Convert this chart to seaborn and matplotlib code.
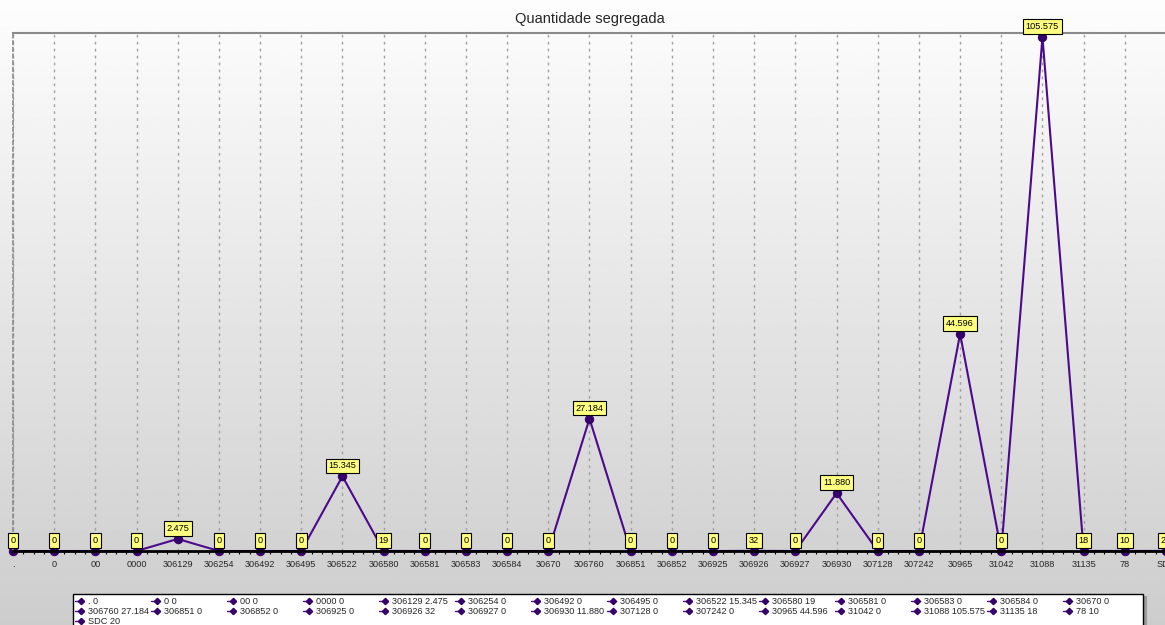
import numpy as np
import pandas as pd
import matplotlib
matplotlib.use("Agg")
import matplotlib.pyplot as plt
import seaborn as sns
from matplotlib.lines import Line2D
from matplotlib.patches import Rectangle
from matplotlib.ticker import MultipleLocator

# data (values in units, pt-BR thousands separator in labels)
codes = [".", "0", "00", "0000", "306129", "306254", "306492", "306495",
         "306522", "306580", "306581", "306583", "306584", "30670", "306760",
         "306851", "306852", "306925", "306926", "306927", "306930", "307128",
         "307242", "30965", "31042", "31088", "31135", "78", "SDC"]
quantities = [0, 0, 0, 0, 2475, 0, 0, 0,
              15345, 19, 0, 0, 0, 0, 27184,
              0, 0, 0, 32, 0, 11880, 0,
              0, 44596, 0, 105575, 18, 10, 20]
title = "Quantidade segregada"

LINE_C = "#4b0a8c"
MARK_C = "#35006a"
W, H = 1165, 625


def fmt_br(v):
    return f"{v:,.0f}".replace(",", ".")


sns.set_theme(style="white")
plt.rcParams["font.family"] = ["Liberation Sans", "DejaVu Sans"]

df = pd.DataFrame({"idx": np.arange(len(codes)), "code": codes, "qty": quantities})

fig = plt.figure(figsize=(W / 100, H / 100), dpi=100)

# vertical gradient background
bg = fig.add_axes([0, 0, 1, 1], zorder=-10)
grad = np.linspace(253, 205, 256)[:, None] / 255.0
bg.imshow(np.repeat(grad, 2, axis=1), cmap="gray", vmin=0, vmax=1,
          aspect="auto", extent=[0, 1, 0, 1])
bg.set_axis_off()

# plot area: left edge at 13 px, last category sits at ~1166 px (clipped)
left, right, top, base = 13, 1166, 33, 551
ax = fig.add_axes([left / W, (H - base) / H, (right - left) / W, (base - top) / H])
ax.set_facecolor("none")

sns.lineplot(data=df, x="idx", y="qty", ax=ax, color=LINE_C, lw=1.5,
             marker="o", markersize=6, markerfacecolor=MARK_C,
             markeredgecolor=MARK_C, clip_on=False, zorder=2)

ymax = max(quantities) * (base - top) / (base - 37)
ax.set_xlim(0, len(codes) - 1)
ax.set_ylim(0, ymax)

for i, v in zip(df["idx"], df["qty"]):
    ax.annotate(fmt_br(v), (i, v), xytext=(0, 7.5), textcoords="offset points",
                ha="center", va="center", fontsize=6.6, color="black",
                annotation_clip=False, zorder=5,
                bbox=dict(boxstyle="square,pad=0.3", fc="#ffff80", ec="black", lw=0.8))

ax.set_xticks(df["idx"])
ax.set_xticklabels(codes, fontsize=6.6)
ax.xaxis.set_minor_locator(MultipleLocator(0.25))
ax.tick_params(axis="x", which="both", direction="out", length=2.5, width=0.8,
               color="black", pad=4, bottom=True)
ax.set_yticks([])
ax.set_xlabel("")
ax.set_ylabel("")

ax.grid(axis="x", which="major", linestyle=(0, (2, 3)), color="#a0a0a0", lw=1)
ax.spines["bottom"].set_color("black")
ax.spines["bottom"].set_linewidth(2)
ax.spines["bottom"].set_zorder(4)
ax.spines["top"].set_color("#8a8a8a")
ax.spines["top"].set_linewidth(1.5)
ax.spines["left"].set_color("#8a8a8a")
ax.spines["left"].set_linestyle((0, (2, 2)))
ax.spines["left"].set_linewidth(1.2)
ax.spines["right"].set_visible(False)

fig.text(590 / W, 1 - 19 / H, title, ha="center", va="center", fontsize=10.5)

# legend box: 14 columns, row-major, drawn in pixel layout
lx0, ly0, lx1 = 73, 594, 1143
fig.patches.append(Rectangle(((lx1 + 1) / W, 0), 3 / W, (H - ly0 - 2) / H,
                             transform=fig.transFigure, fc="#9a9a9a", ec="none"))
fig.patches.append(Rectangle((lx0 / W, -0.02), (lx1 - lx0) / W, (H - ly0) / H + 0.02,
                             transform=fig.transFigure, fc="white", ec="black", lw=1))
ncol, colw = 14, 76
for k, (c, v) in enumerate(zip(codes, quantities)):
    r, col = divmod(k, ncol)
    px = 77 + col * colw
    py = 601 + r * 10
    fig.lines.append(Line2D([(px - 2) / W, (px + 6) / W], [1 - py / H] * 2,
                            transform=fig.transFigure, color=LINE_C, lw=1))
    fig.lines.append(Line2D([(px + 4) / W], [1 - py / H], transform=fig.transFigure,
                            marker="D", ms=3.2, color=MARK_C, lw=0))
    fig.text((px + 11) / W, 1 - py / H, f"{c} {fmt_br(v)}", ha="left", va="center",
             fontsize=6.6)

fig.savefig("out.png", dpi=100)
